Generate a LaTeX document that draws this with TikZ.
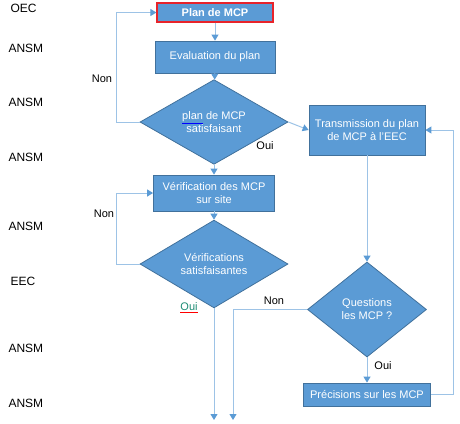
\documentclass[tikz,border=0pt]{standalone}
\usepackage{fontspec}
\setmainfont{Liberation Sans}
\usetikzlibrary{shapes.geometric,arrows.meta}
\definecolor{boxfill}{HTML}{5B9BD5}
\definecolor{boxline}{HTML}{41719C}
\definecolor{flowline}{HTML}{9DC3E6}
\definecolor{tipblue}{HTML}{5B9BD5}
\definecolor{planred}{HTML}{E8232A}
\definecolor{ouigreen}{HTML}{1E8C74}
\tikzset{
  box/.style={rectangle, fill=boxfill, draw=boxline, line width=0.8bp, text=white,
    font=\fontsize{11bp}{13bp}\selectfont, align=center, inner sep=0pt},
  decision/.style={diamond, fill=boxfill, draw=boxline, line width=0.8bp, text=white,
    font=\fontsize{11bp}{13bp}\selectfont, align=center, inner sep=0pt},
  flow/.style={draw=flowline, line width=1bp,
    -{Triangle[width=7bp,length=6bp,color=tipblue]}},
  role/.style={anchor=west, font=\fontsize{12bp}{13bp}\selectfont},
  answer/.style={font=\fontsize{11bp}{13bp}\selectfont}
}
\begin{document}
\begin{tikzpicture}[x=1bp,y=-1bp]
    \useasboundingbox (0,0) rectangle (460,423);
    % roles
    \node[role] (r1) at (7,8) {OEC};
    \node[role] (r2) at (5,48) {ANSM};
    \node[role] (r3) at (5,102) {ANSM};
    \node[role] (r4) at (5,157) {ANSM};
    \node[role] (r5) at (5,226) {ANSM};
    \node[role] (r6) at (7,281) {EEC};
    \node[role] (r7) at (5,348) {ANSM};
    \node[role] (r8) at (5,403) {ANSM};
    % left column
    \node[box, draw=planred, line width=1.2bp, minimum width=116bp, minimum height=19bp,
      font=\fontsize{11bp}{13bp}\selectfont\bfseries] (plan) at (215,12.5) {Plan de MCP};
    \node[box, minimum width=120bp, minimum height=32bp] (eval) at (215,57) {Evaluation du plan};
    \node[decision, minimum width=148bp, minimum height=66bp] (d1) at (214,122)
      {\textcolor{blue}{\underline{\textcolor{white}{plan}}} de MCP\\satisfaisant};
    \node[box, minimum width=121bp, minimum height=36bp] (verif) at (214,193)
      {Vérification des MCP\\sur site};
    \node[decision, minimum width=148bp, minimum height=64bp] (d2) at (214,264)
      {Vérifications\\satisfaisantes};
    % right column
    \node[box, minimum width=116bp, minimum height=50bp] (trans) at (367,130)
      {Transmission du plan\\de MCP à l'EEC};
    \node[decision, minimum width=119bp, minimum height=95bp] (d3) at (367,309.5)
      {Questions\\les MCP ?};
    \node[box, minimum width=127bp, minimum height=23bp] (prec) at (367,394.5)
      {Précisions sur les MCP};
    % free ends
    \coordinate (loopA) at (116,12.5);
    \coordinate (loopB) at (116,193);
    \coordinate (loopC) at (453,130);
    \coordinate (endA) at (214,420);
    \coordinate (endB) at (233,420);
    % connectors
    \draw[flow] (plan) -- (eval);
    \draw[flow] (eval) -- (d1);
    \draw[flow] (d1.west) -| (loopA) -- (plan.west);
    \draw[flow] (d1.east) -- (trans.west);
    \draw[flow] (d1.south) -- (verif.north);
    \draw[flow] (verif) -- (d2);
    \draw[flow] (d2.west) -| (loopB) -- (verif.west);
    \draw[flow] (d2.south) -- (endA);
    \draw[flow] (trans.south) -- (d3.north);
    \draw[flow] (d3.west) -| (endB);
    \draw[flow] (d3.south) -- (prec.north);
    \draw[flow] (prec.east) -| (loopC) -- (trans.east);
    % answers
    \node[answer] (non1) at (102,79) {Non};
    \node[answer] (oui1) at (265,146) {Oui};
    \node[answer] (non2) at (104,214) {Non};
    \node[answer, text=ouigreen] (oui2) at (189,308)
      {\textcolor{red}{\underline{\textcolor{ouigreen}{Oui}}}};
    \node[answer] (non3) at (274,301) {Non};
    \node[answer] (oui3) at (383,366) {Oui};
\end{tikzpicture}
\end{document}
